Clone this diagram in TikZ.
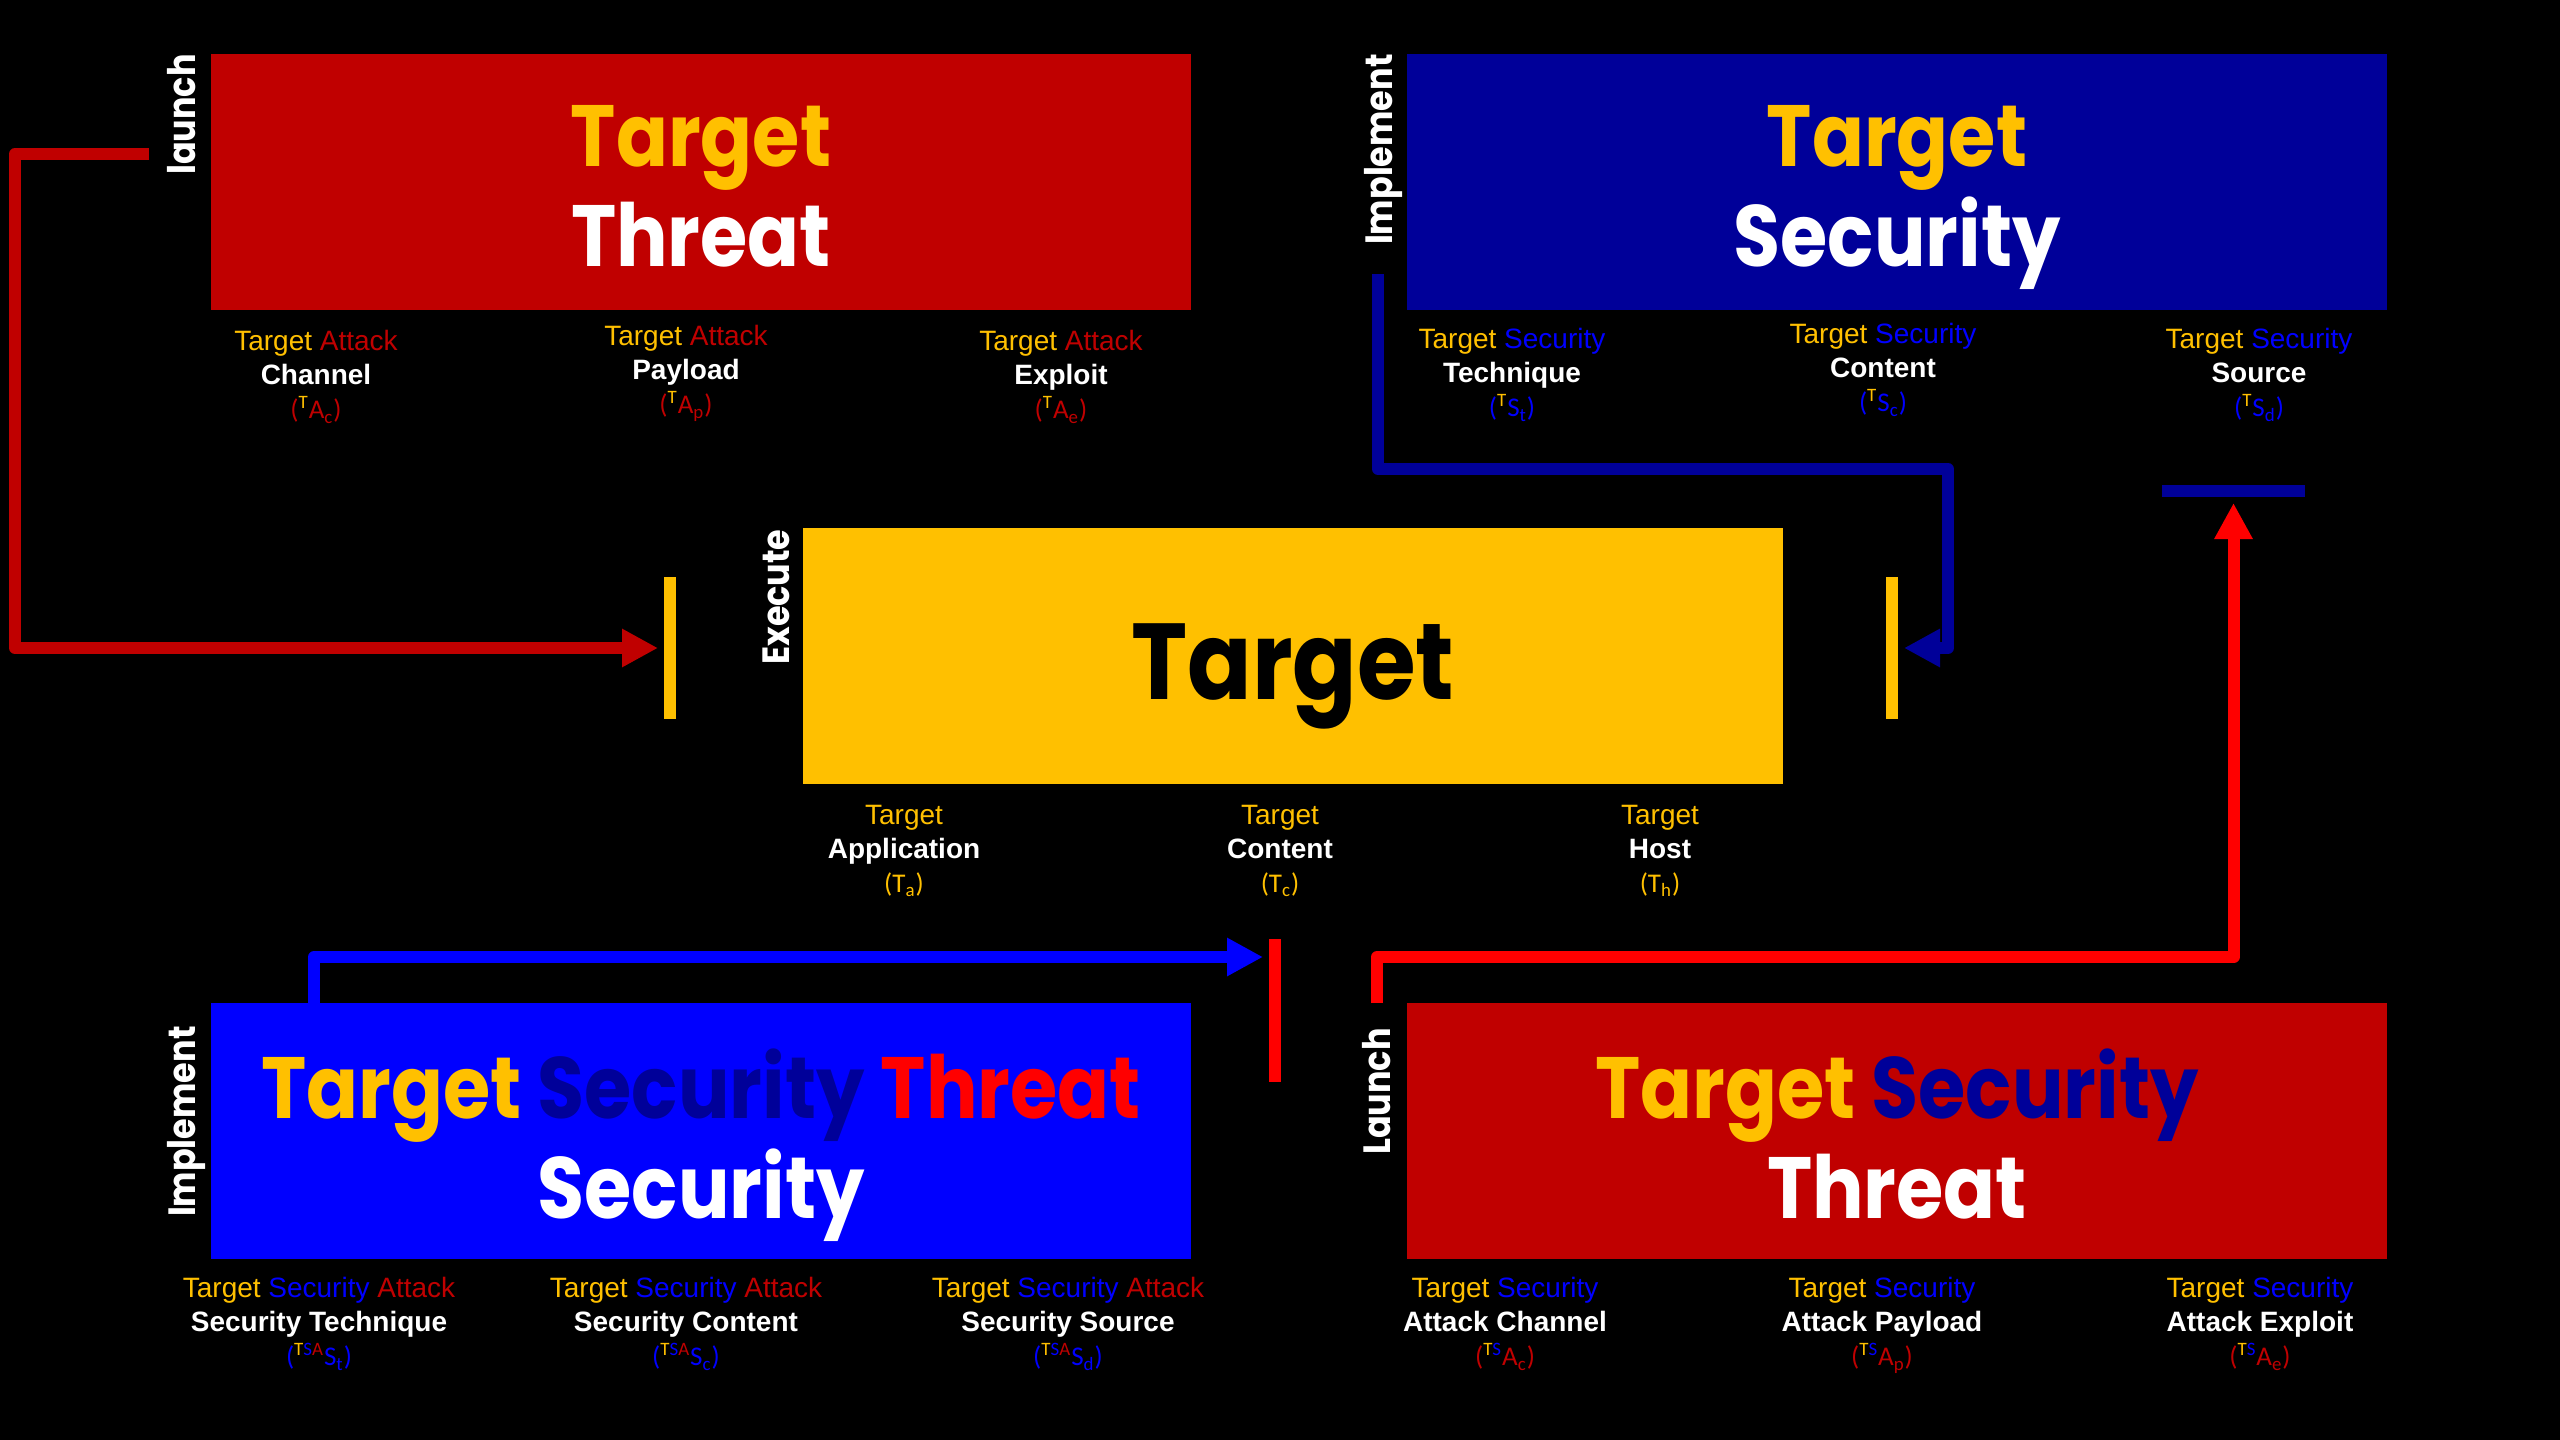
\documentclass[tikz,border=0pt]{standalone}
\usepackage{fontspec}
\usetikzlibrary{arrows.meta}
\setmainfont{Liberation Sans}
\newfontfamily\titlef{Poppins}[FakeStretch=0.88]
\newfontfamily\subf{Carlito}
\definecolor{cDred}{HTML}{C00000}
\definecolor{cGold}{HTML}{FFC000}
\definecolor{cNavy}{HTML}{000099}
\definecolor{cBlue}{HTML}{0000FF}
\definecolor{cRed}{HTML}{FF0000}
\newcommand{\Tg}{\textcolor{cGold}{Target}}
\newcommand{\At}{\textcolor{cDred}{Attack}}
\newcommand{\Se}{\textcolor{cBlue}{Security}}
\newcommand{\subl}[1]{{\subf\fontsize{13.5}{17}\selectfont #1}}
\newcommand{\supT}[1]{\textsuperscript{#1}}
\begin{document}
\begin{tikzpicture}[x=0.5pt,y=-0.5pt,
  box/.style={draw=none, minimum width=490pt, minimum height=128pt, inner sep=0pt, outer sep=0pt, anchor=north west},
  title/.style={font=\titlef\bfseries\fontsize{43.5}{50}\selectfont, anchor=base, inner sep=0pt},
  bigtitle/.style={font=\titlef\bfseries\fontsize{54}{60}\selectfont, anchor=base, inner sep=0pt},
  vlab/.style={font=\titlef\bfseries\fontsize{19}{22}\selectfont, text=white, rotate=90, anchor=base east, inner sep=0pt},
  lab/.style={align=center, inner sep=0pt, text=white, font=\fontsize{14}{17}\selectfont, anchor=north},
  bar/.style={inner sep=0pt, outer sep=0pt, draw=none},
  conn/.style={line width=6pt, line join=round, -{Triangle[length=18pt,width=18pt]}, shorten >=3pt}
]
\useasboundingbox (0,0) rectangle (2560,1440);
\fill[black] (0,0) rectangle (2560,1440);

% boxes
\node[box, fill=cDred] (tt) at (211,54) {};
\node[box, fill=cNavy] (ts) at (1407,54) {};
\node[box, fill=cGold] (t) at (803,528) {};
\node[box, fill=cBlue] (tst) at (211,1003) {};
\node[box, fill=cDred] (tsa) at (1407,1003) {};

% titles
\node[title, text=cGold] (tt1) at (701,166) {Target};
\node[title, text=white] (tt2) at (701,266) {Threat};
\node[title, text=cGold] (ts1) at (1897,166) {Target};
\node[title, text=white] (ts2) at (1897,266) {Security};
\node[bigtitle, text=black] (t1) at (1293,699) {Target};
\node[title] (tst1) at (701,1118) {\textcolor{cGold}{Target} \textcolor{cNavy}{Security} \textcolor{cRed}{Threat}};
\node[title, text=white] (tst2) at (701,1218) {Security};
\node[title] (tsa1) at (1897,1118) {\textcolor{cGold}{Target} \textcolor{cNavy}{Security}};
\node[title, text=white] (tsa2) at (1897,1218) {Threat};

% rotated labels
\node[vlab] (v1) at (195,54) {launch};
\node[vlab] (v2) at (1392,54) {Implement};
\node[vlab] (v3) at (789,529) {Execute};
\node[vlab] (v4) at (195,1026) {Implement};
\node[vlab] (v5) at (1390,1028) {Launch};

% bars
\node[bar, fill=cGold, minimum width=6pt, minimum height=71pt] (barL) at (670,648) {};
\node[bar, fill=cGold, minimum width=6pt, minimum height=71pt] (barR) at (1892,648) {};
\node[bar, fill=cRed, minimum width=6pt, minimum height=71.5pt] (barB) at (1275,1010) {};
\node[bar, fill=cNavy, minimum width=71.5pt, minimum height=6pt] (barT) at (2233.5,491) {};

% connectors
\coordinate (s1) at (149,154);
\coordinate (k1) at (15,154);
\draw[conn, cDred] (s1) -- (k1) |- (barL.west);
\coordinate (s2) at (1378,274);
\coordinate (k2) at (1948,469);
\draw[conn, cNavy] (s2) |- (k2) |- (barR.east);
\coordinate (s3) at (314,1003);
\coordinate (k3) at (314,957);
\draw[conn, cBlue] (s3) -- (k3) -- (k3 -| barB.west);
\coordinate (s4) at (1377,1003);
\coordinate (k4) at (1377,957);
\draw[conn, cRed] (s4) -- (k4) -| (barT.south);

% labels under top-left
\node[lab] (la1) at (316,330) {\Tg{} \At\\ \textbf{Channel}\\ \subl{\textcolor{cDred}{(}\supT{\textcolor{cGold}{T}}\textcolor{cDred}{A\textsubscript{c})}}};
\node[lab] (la2) at (686,325) {\Tg{} \At\\ \textbf{Payload}\\ \subl{\textcolor{cDred}{(}\supT{\textcolor{cGold}{T}}\textcolor{cDred}{A\textsubscript{p})}}};
\node[lab] (la3) at (1061,330) {\Tg{} \At\\ \textbf{Exploit}\\ \subl{\textcolor{cDred}{(}\supT{\textcolor{cGold}{T}}\textcolor{cDred}{A\textsubscript{e})}}};

% labels under top-right
\node[lab] (lb1) at (1512,328) {\Tg{} \Se\\ \textbf{Technique}\\ \subl{\textcolor{cBlue}{(}\supT{\textcolor{cGold}{T}}\textcolor{cBlue}{S\textsubscript{t})}}};
\node[lab] (lb2) at (1883,323) {\Tg{} \Se\\ \textbf{Content}\\ \subl{\textcolor{cBlue}{(}\supT{\textcolor{cGold}{T}}\textcolor{cBlue}{S\textsubscript{c})}}};
\node[lab] (lb3) at (2259,328) {\Tg{} \Se\\ \textbf{Source}\\ \subl{\textcolor{cBlue}{(}\supT{\textcolor{cGold}{T}}\textcolor{cBlue}{S\textsubscript{d})}}};

% labels under center
\node[lab] (lc1) at (904,805) {\Tg\\ \textbf{Application}\\ \subl{\textcolor{cGold}{(T\textsubscript{a})}}};
\node[lab] (lc2) at (1280,805) {\Tg\\ \textbf{Content}\\ \subl{\textcolor{cGold}{(T\textsubscript{c})}}};
\node[lab] (lc3) at (1660,805) {\Tg\\ \textbf{Host}\\ \subl{\textcolor{cGold}{(T\textsubscript{h})}}};

% labels under bottom-left
\node[lab] (ld1) at (319,1277) {\Tg{} \Se{} \At\\ \textbf{Security Technique}\\ \subl{\textcolor{cBlue}{(}\supT{\textcolor{cGold}{T}\textcolor{cBlue}{S}\textcolor{cDred}{A}}\textcolor{cBlue}{S\textsubscript{t})}}};
\node[lab] (ld2) at (686,1277) {\Tg{} \Se{} \At\\ \textbf{Security Content}\\ \subl{\textcolor{cBlue}{(}\supT{\textcolor{cGold}{T}\textcolor{cBlue}{S}\textcolor{cDred}{A}}\textcolor{cBlue}{S\textsubscript{c})}}};
\node[lab] (ld3) at (1068,1277) {\Tg{} \Se{} \At\\ \textbf{Security Source}\\ \subl{\textcolor{cBlue}{(}\supT{\textcolor{cGold}{T}\textcolor{cBlue}{S}\textcolor{cDred}{A}}\textcolor{cBlue}{S\textsubscript{d})}}};

% labels under bottom-right
\node[lab] (le1) at (1505,1277) {\Tg{} \Se\\ \textbf{Attack Channel}\\ \subl{\textcolor{cDred}{(}\supT{\textcolor{cGold}{T}\textcolor{cBlue}{S}}\textcolor{cDred}{A\textsubscript{c})}}};
\node[lab] (le2) at (1882,1277) {\Tg{} \Se\\ \textbf{Attack Payload}\\ \subl{\textcolor{cDred}{(}\supT{\textcolor{cGold}{T}\textcolor{cBlue}{S}}\textcolor{cDred}{A\textsubscript{p})}}};
\node[lab] (le3) at (2260,1277) {\Tg{} \Se\\ \textbf{Attack Exploit}\\ \subl{\textcolor{cDred}{(}\supT{\textcolor{cGold}{T}\textcolor{cBlue}{S}}\textcolor{cDred}{A\textsubscript{e})}}};
\end{tikzpicture}
\end{document}
